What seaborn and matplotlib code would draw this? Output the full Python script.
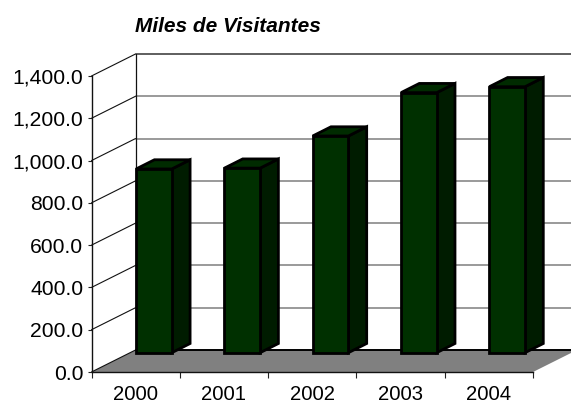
import matplotlib
matplotlib.use("Agg")
import matplotlib.pyplot as plt
from matplotlib.lines import Line2D
from matplotlib.patches import Polygon
from matplotlib.transforms import Affine2D, IdentityTransform
import pandas as pd
import seaborn as sns

years = ["2000", "2001", "2002", "2003", "2004"]
visitors = [869, 873, 1025, 1230, 1258]
y_ticks = [0, 200, 400, 600, 800, 1000, 1200, 1400]
title = "Miles de Visitantes"

sns.set_theme(style="white")
plt.rcParams["font.family"] = ["Liberation Sans", "DejaVu Sans"]

W, H = 571, 404
# pixel offsets of the fake 3d: wall depth, bar shift, bar depth
wall_dx, wall_dy = 44, 22
shift_dx, shift_dy = 18.3, 19.3
bar_dx, bar_dy = 18.3, 9.2

fig = plt.figure(figsize=(W / 100, H / 100), dpi=100, facecolor="white")
ax = fig.add_axes([91.5 / W, (H - 372) / H, 441.5 / W, 296 / H])

df = pd.DataFrame({"year": years, "visitors": visitors})
sns.barplot(data=df, x="year", y="visitors", color="#003000", saturation=1,
            width=0.404, edgecolor="black", linewidth=2.0, ax=ax, zorder=6)
ax.set_xlim(-0.5, 4.5)
ax.set_ylim(0, 1400)
ax.set_xlabel("")
ax.set_ylabel("")
ax.patch.set_visible(False)
for s in ["top", "right"]:
    ax.spines[s].set_visible(False)
for s in ["left", "bottom"]:
    ax.spines[s].set_color("#111111")
    ax.spines[s].set_linewidth(1.0)
    ax.spines[s].set_zorder(4)

ax.set_yticks(y_ticks)
ax.set_yticklabels([f"{v:,.1f}" for v in y_ticks])
ax.set_xticks([i - 0.5 for i in range(len(years) + 1)])
ax.set_xticklabels([])
ax.set_xticks(range(len(years)), labels=years, minor=True)
ax.tick_params(axis="y", which="major", left=True, length=3, width=0.8, color="#222222",
               labelsize=15.2, labelcolor="black", pad=3)
ax.tick_params(axis="x", which="major", bottom=True, length=4.5, width=0.8, color="#222222")
ax.tick_params(axis="x", which="minor", bottom=False, length=0, labelsize=14.6,
               labelcolor="black", pad=9)


def px(x, y):
    return ax.transData.transform((x, y))


def poly(pts, color, z, lw=2.0, edge="black"):
    fig.add_artist(Polygon(pts, closed=True, facecolor=color, edgecolor=edge, linewidth=lw,
                           transform=IdentityTransform(), zorder=z, joinstyle="miter"))


def line(x0, y0, x1, y1, color, lw, z):
    fig.add_artist(Line2D([x0, x1], [y0, y1], color=color, linewidth=lw,
                          transform=IdentityTransform(), zorder=z))


fig.patch.set_zorder(0)
ax.set_zorder(5)

# floor
x0, y0 = px(-0.5, 0)
x1, _ = px(4.5, 0)
poly([(x0, y0), (x1, y0), (x1 + wall_dx, y0 + wall_dy), (x0 + wall_dx, y0 + wall_dy)],
     "#808080", 2, lw=0)
line(x0 + wall_dx, y0 + wall_dy, x1 + wall_dx, y0 + wall_dy, "black", 1.4, 3)

# walls: grid on the back, slanted lines on the left side
for v in y_ticks:
    xa, ya = px(-0.5, v)
    xb, _ = px(4.5, v)
    line(xa, ya, xa + wall_dx, ya + wall_dy, "#111111", 0.8, 3)
    if v > 0:
        col = "#333333" if v == y_ticks[-1] else "#7f7f7f"
        line(xa + wall_dx, ya + wall_dy, xb + wall_dx, ya + wall_dy, col, 1.1, 1)
xa, ya = px(-0.5, 0)
_, yb = px(-0.5, 1400)
line(xa + wall_dx, ya + wall_dy, xa + wall_dx, yb + wall_dy, "#111111", 0.9, 3)

# bars: move the seaborn faces back on the floor, then add side and top
shift = Affine2D().translate(shift_dx, shift_dy)
for bar in ax.patches:
    bar.set_transform(ax.transData + shift)
    bar.set_clip_on(False)
    bar.set_joinstyle("miter")
    bb = bar.get_bbox()
    xl, yb = px(bb.x0, 0)
    xr, yt = px(bb.x1, bb.y1)
    xl, xr = xl + shift_dx, xr + shift_dx
    yb, yt = yb + shift_dy, yt + shift_dy
    poly([(xr, yb), (xr + bar_dx, yb + bar_dy), (xr + bar_dx, yt + bar_dy), (xr, yt)],
         "#001c00", 3.5)
    poly([(xl, yt), (xr, yt), (xr + bar_dx, yt + bar_dy), (xl + bar_dx, yt + bar_dy)],
         "#002b00", 3.5)

fig.text(228 / W, (H - 26) / H, title, fontsize=15, fontweight="bold", fontstyle="italic",
         ha="center", va="center", color="black")

fig.savefig("out.png", dpi=100)
